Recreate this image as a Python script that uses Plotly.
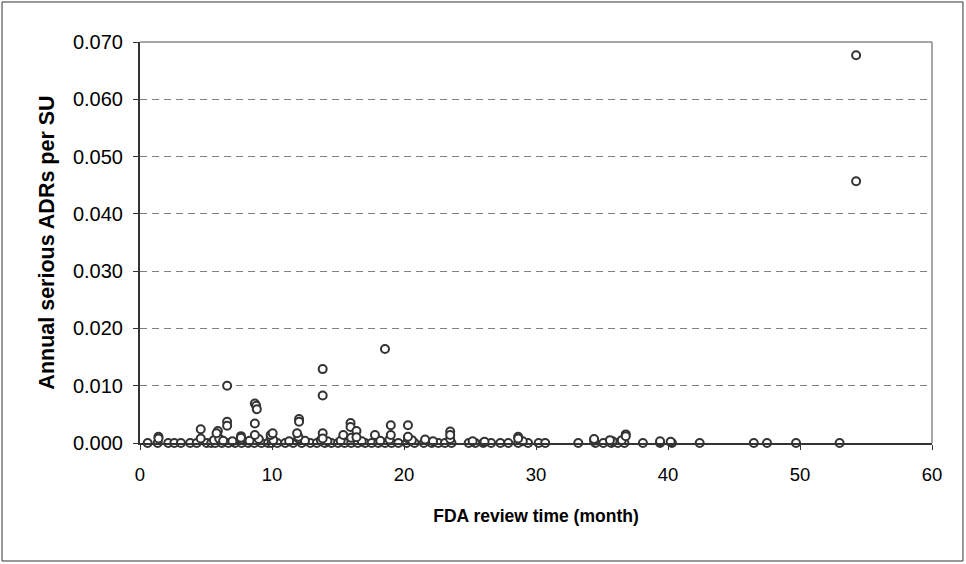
import plotly.graph_objects as go

# Review time (months) and annual serious ADRs per SU
review_time_high = [54.25, 54.25, 18.56, 13.84, 13.84, 6.6, 8.7, 8.8, 8.85, 8.7, 6.6, 6.6,
                    12.05, 12.05, 4.6, 4.6, 5.9, 5.8, 1.4, 1.4, 7.65, 7.65, 8.7, 9.9, 12.0,
                    13.84, 13.84, 15.4, 15.95, 15.95, 16.4, 16.4, 17.8, 19.0, 19.0, 20.3, 20.3,
                    21.6, 23.5, 23.5, 28.65, 28.65, 34.4, 35.6, 36.8, 36.8, 10.05, 11.9]
adr_high = [0.0677, 0.0457, 0.0164, 0.0129, 0.0083, 0.0100, 0.0069, 0.0065, 0.0059, 0.0034,
            0.0037, 0.0030, 0.0042, 0.0037, 0.0024, 0.0008, 0.0021, 0.0017, 0.0011, 0.0008,
            0.0012, 0.0009, 0.0014, 0.0014, 0.0011, 0.0017, 0.0008, 0.0014, 0.0035, 0.0028,
            0.0021, 0.0010, 0.0014, 0.0031, 0.0014, 0.0031, 0.0011, 0.0006, 0.0020, 0.0014,
            0.0011, 0.0008, 0.0007, 0.0005, 0.0015, 0.0012, 0.0017, 0.0017]

review_time_low = [5.6, 6.0, 6.3, 7.0, 7.7, 8.3, 9.0, 9.9, 10.1, 11.3, 12.0, 12.5, 13.7, 14.2,
                   15.2, 16.0, 16.8, 18.2, 18.9, 20.3, 20.6, 22.2, 23.5, 25.2, 26.1, 29.0,
                   34.4, 35.8, 36.5, 39.4, 40.2]
adr_low = [0.0005, 0.0008, 0.0004, 0.0003, 0.0006, 0.0004, 0.0007, 0.0009, 0.0005, 0.0003,
           0.0008, 0.0004, 0.0005, 0.0003, 0.0004, 0.0009, 0.0003, 0.0004, 0.0006, 0.0008,
           0.0005, 0.0003, 0.0007, 0.0003, 0.0002, 0.0003, 0.0004, 0.0003, 0.0005, 0.0003,
           0.0002]

review_time_zero = [0.58, 1.34, 2.14, 2.6, 3.1, 3.8, 4.3, 5.05, 5.4, 5.7, 6.2, 6.7, 7.2, 7.7,
                    8.2, 8.66, 9.2, 9.7, 9.97, 10.4, 11.0, 11.6, 12.25, 12.9, 13.4, 14.0, 14.5,
                    15.0, 15.5, 16.0, 16.5, 17.05, 17.55, 18.05, 18.56, 19.06, 19.57, 20.2,
                    20.8, 21.5, 22.1, 22.6, 23.1, 23.6, 24.9, 25.4, 26.0, 26.6, 27.3, 27.9,
                    28.65, 29.4, 30.2, 30.7, 33.2, 34.5, 35.1, 35.7, 36.2, 36.7, 38.1, 39.4,
                    40.3, 42.4, 46.5, 47.5, 49.7, 53.0]
adr_zero = [0.0] * len(review_time_zero)

x_vals = review_time_zero + review_time_low + review_time_high
y_vals = adr_zero + adr_low + adr_high

x_ticks = [0, 10, 20, 30, 40, 50, 60]
y_ticks = [0.0, 0.01, 0.02, 0.03, 0.04, 0.05, 0.06, 0.07]

fig = go.Figure()
fig.add_trace(go.Scatter(
    x=x_vals, y=y_vals, mode="markers",
    marker=dict(symbol="circle", size=8, color="white",
                line=dict(color="#333333", width=2)),
    cliponaxis=False, showlegend=False,
))

sans = "Liberation Sans, Arial, sans-serif"
fig.update_layout(
    width=966, height=564,
    margin=dict(l=140, r=34, t=42, b=121, pad=0),
    paper_bgcolor="white", plot_bgcolor="white",
    font=dict(family=sans, color="black", size=19),
    xaxis=dict(range=[0, 60], tickvals=x_ticks, ticks="outside", ticklen=5,
               tickcolor="#333333", showline=True, linecolor="#333333", linewidth=2,
               showgrid=False, zeroline=False, ticklabelstandoff=9,
               tickfont=dict(size=18.5),
               title=dict(text="<b>FDA review time (month)</b>",
                          font=dict(size=17.5), standoff=26)),
    yaxis=dict(range=[0, 0.07], tickvals=y_ticks, tickformat=".3f", ticks="outside",
               ticklen=5, tickcolor="#333333", showline=True, linecolor="#333333",
               linewidth=2, showgrid=True, gridcolor="#808080", griddash="7px,5px",
               gridwidth=1, zeroline=False, ticklabelstandoff=6,
               tickfont=dict(size=20),
               title=dict(text="<b>Annual serious ADRs per SU</b>",
                          font=dict(size=21.5), standoff=12)),
    shapes=[
        dict(type="line", xref="paper", yref="paper", x0=0, x1=1, y0=1, y1=1,
             line=dict(color="#888888", width=1.5)),
        dict(type="line", xref="paper", yref="paper", x0=1, x1=1, y0=0, y1=1,
             line=dict(color="#888888", width=1.5)),
        dict(type="rect", xref="paper", yref="paper", x0=-0.1742, x1=1.0391,
             y0=-0.2943, y1=1.0998, line=dict(color="#333333", width=1)),
    ],
)

fig.write_html("out.html", config={"displayModeBar": False},
               post_script="document.body.style.margin='0';document.body.style.overflow='hidden';")
